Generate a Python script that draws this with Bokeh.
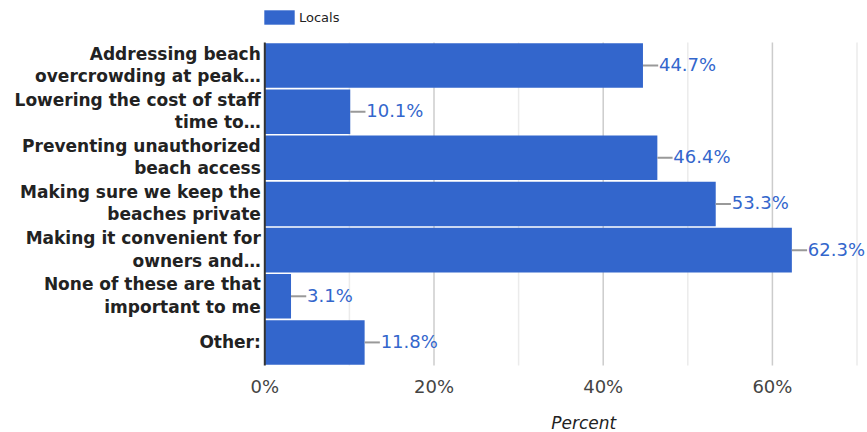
from bokeh.plotting import figure
from bokeh.models import (ColumnDataSource, Range1d, LabelSet, Label, Legend,
                          LegendItem)
from bokeh.core.properties import value
from bokeh.embed import file_html
from bokeh.resources import INLINE

# ---- data ----
categories = [
    "Addressing beach\novercrowding at peak\u2026",
    "Lowering the cost of staff\ntime to\u2026",
    "Preventing unauthorized\nbeach access",
    "Making sure we keep the\nbeaches private",
    "Making it convenient for\nowners and\u2026",
    "None of these are that\nimportant to me",
    "Other:",
]
values = [44.7, 10.1, 46.4, 53.3, 62.3, 3.1, 11.8]
series_name = "Locals"
tick_values = [0, 20, 40, 60]
tick_labels = ["0%", "20%", "40%", "60%"]
minor_values = [10, 30, 50, 70]
x_title = "Percent"

BAR = "#3366cc"
FONT = "DejaVu Sans"
n = len(categories)
idx = list(range(n))          # category slot, 0 = top

src = ColumnDataSource(dict(
    y=idx,
    val=values,
    lead_end=[v + 1.8 for v in values],
    txt=["%.1f%%" % v for v in values],
))

# category label lines
lab_y, lab_txt, lab_dy, lab_x = [], [], [], []
for i, c in zip(idx, categories):
    lines = c.split("\n")
    offs = [-6] if len(lines) == 1 else [6, -16.5]
    for ln, o in zip(lines, offs):
        lab_y.append(i)
        lab_txt.append(ln)
        lab_dy.append(o)
        lab_x.append(0)
lab_src = ColumnDataSource(dict(y=lab_y, txt=lab_txt, dy=lab_dy, x=lab_x))

p = figure(
    width=867, height=432, min_border=0,
    x_range=Range1d(-31.24, 71.24),
    y_range=Range1d(7.952, -1.410),
    x_axis_location=None, y_axis_location=None,
    output_backend="svg", toolbar_location=None,
)
p.outline_line_color = None
p.xgrid.visible = False
p.ygrid.visible = False

top_edge = [-0.5] * 4
bot_edge = [n - 0.5] * 4

# gridlines
p.segment(x0=minor_values, x1=minor_values, y0=top_edge, y1=bot_edge,
          line_color="#ebebeb", line_width=1.5)
p.segment(x0=tick_values[1:], x1=tick_values[1:], y0=top_edge[:3],
          y1=bot_edge[:3], line_color="#cccccc", line_width=1.5)

bars = p.hbar(y="y", left=0, right="val", height=0.965, source=src,
              fill_color=BAR, line_color=None)

# baseline axis
p.segment(x0=[0], x1=[0], y0=[-0.5], y1=[n - 0.5],
          line_color="#333333", line_width=2)

# leader lines
p.segment(x0="val", y0="y", x1="lead_end", y1="y", source=src,
          line_color="#999999", line_width=2)

# value labels
p.add_layout(LabelSet(x="val", y="y", text="txt", source=src,
                      x_offset=16, y_offset=-5.5, text_align="left",
                      text_baseline="alphabetic",
                      text_font=value(FONT), text_font_size="18px",
                      text_color=BAR))

# category labels
p.add_layout(LabelSet(x="x", y="y", text="txt", source=lab_src,
                      x_offset=-4, y_offset="dy", text_align="right",
                      text_baseline="alphabetic", text_font=value(FONT),
                      text_font_size="17px", text_font_style="bold",
                      text_color="#222222"))

# x tick labels
tick_src = ColumnDataSource(dict(x=tick_values, txt=tick_labels))
p.add_layout(LabelSet(x="x", y=40, y_units="screen", text="txt",
                      source=tick_src, text_align="center",
                      text_baseline="alphabetic", text_font=value(FONT),
                      text_font_size="18px", text_color="#444444"))

# axis title
p.add_layout(Label(x=37.7, y=10, y_units="screen", text=x_title,
                   text_align="center", text_baseline="alphabetic",
                   text_font=FONT, text_font_size="17px",
                   text_font_style="italic", text_color="#222222"))

legend = Legend(items=[LegendItem(label=series_name, renderers=[bars])],
                location=(260, 406), orientation="horizontal",
                glyph_width=38, glyph_height=18, label_height=18,
                label_standoff=1, padding=0, margin=0, spacing=0,
                border_line_color=None, background_fill_alpha=0,
                label_text_font=FONT, label_text_font_size="13px",
                label_text_color="#222222")
p.add_layout(legend)

open("out.html", "w").write(file_html(p, INLINE))
